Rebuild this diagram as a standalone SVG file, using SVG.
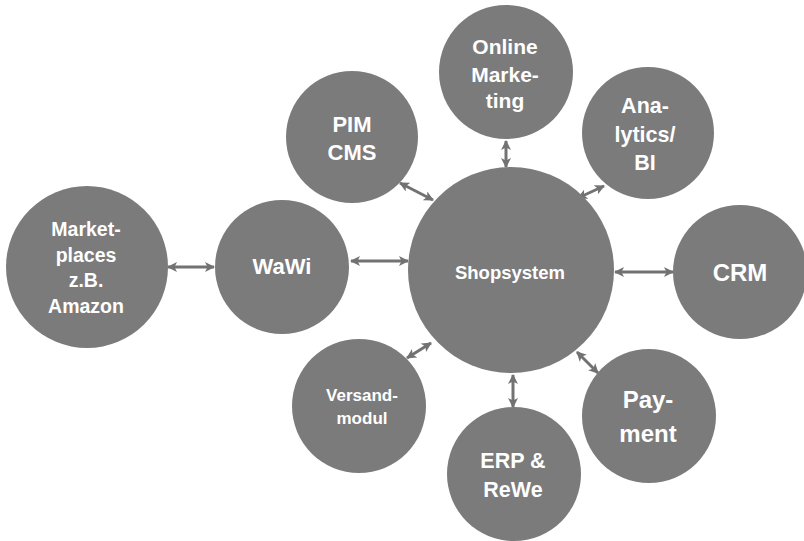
<svg xmlns="http://www.w3.org/2000/svg" width="804" height="541" viewBox="0 0 804 541">
<style>
.node{fill:#7b7b7b}
.lbl{fill:#ffffff;font-family:"Liberation Sans",Arial,sans-serif;font-weight:bold;text-anchor:middle}
.conn{stroke:#727272;stroke-width:3;fill:none;marker-start:url(#ah);marker-end:url(#ah)}
</style>
<defs>
<marker id="ah" viewBox="0 0 10 10" refX="9" refY="5" markerWidth="10" markerHeight="10" markerUnits="userSpaceOnUse" orient="auto-start-reverse">
<path d="M0,0 L10,5 L0,10 L2.5,5 z" fill="#727272"/>
</marker>
</defs>
<rect width="804" height="541" fill="#ffffff"/>
<g id="connectors">
<line class="conn" x1="168" y1="267" x2="214" y2="267"/>
<line class="conn" x1="351" y1="261" x2="408" y2="261"/>
<line class="conn" x1="615" y1="272" x2="673" y2="272"/>
<line class="conn" x1="506" y1="141" x2="506" y2="167"/>
<line class="conn" x1="400" y1="183" x2="433" y2="200"/>
<line class="conn" x1="578" y1="198" x2="604" y2="186"/>
<line class="conn" x1="407" y1="358" x2="431" y2="343"/>
<line class="conn" x1="513" y1="375" x2="513" y2="407"/>
<line class="conn" x1="577" y1="352" x2="598" y2="373"/>
</g>
<g id="marketplaces">
<circle class="node" cx="87" cy="267" r="81"/>
<text class="lbl" font-size="19.5"><tspan x="86" y="236">Market-</tspan><tspan x="86" y="262">places</tspan><tspan x="86" y="287">z.B.</tspan><tspan x="86" y="313">Amazon</tspan></text>
</g>
<g id="wawi">
<circle class="node" cx="282" cy="267" r="67"/>
<text class="lbl" font-size="22" x="282" y="274">WaWi</text>
</g>
<g id="shopsystem">
<circle class="node" cx="511" cy="270" r="103"/>
<text class="lbl" font-size="18.5" x="510" y="279">Shopsystem</text>
</g>
<g id="crm">
<circle class="node" cx="740" cy="272" r="67"/>
<text class="lbl" font-size="24" x="740" y="281">CRM</text>
</g>
<g id="online-marketing">
<circle class="node" cx="506" cy="72" r="67"/>
<text class="lbl" font-size="21"><tspan x="505" y="54">Online</tspan><tspan x="505" y="82">Marke-</tspan><tspan x="505" y="108">ting</tspan></text>
</g>
<g id="pim-cms">
<circle class="node" cx="352" cy="137" r="66"/>
<text class="lbl" font-size="22"><tspan x="352" y="132">PIM</tspan><tspan x="352" y="160">CMS</tspan></text>
</g>
<g id="analytics">
<circle class="node" cx="648" cy="133" r="66"/>
<text class="lbl" font-size="21.5"><tspan x="645" y="113">Ana-</tspan><tspan x="645" y="142">lytics/</tspan><tspan x="645" y="170">BI</tspan></text>
</g>
<g id="versandmodul">
<circle class="node" cx="359" cy="406" r="67"/>
<text class="lbl" font-size="17"><tspan x="362" y="401">Versand-</tspan><tspan x="362" y="424">modul</tspan></text>
</g>
<g id="erp-rewe">
<circle class="node" cx="514" cy="474" r="67"/>
<text class="lbl" font-size="21.5"><tspan x="513" y="468">ERP &amp;</tspan><tspan x="513" y="497">ReWe</tspan></text>
</g>
<g id="payment">
<circle class="node" cx="649" cy="416" r="67"/>
<text class="lbl" font-size="24"><tspan x="648" y="408">Pay-</tspan><tspan x="648" y="442">ment</tspan></text>
</g>
</svg>
